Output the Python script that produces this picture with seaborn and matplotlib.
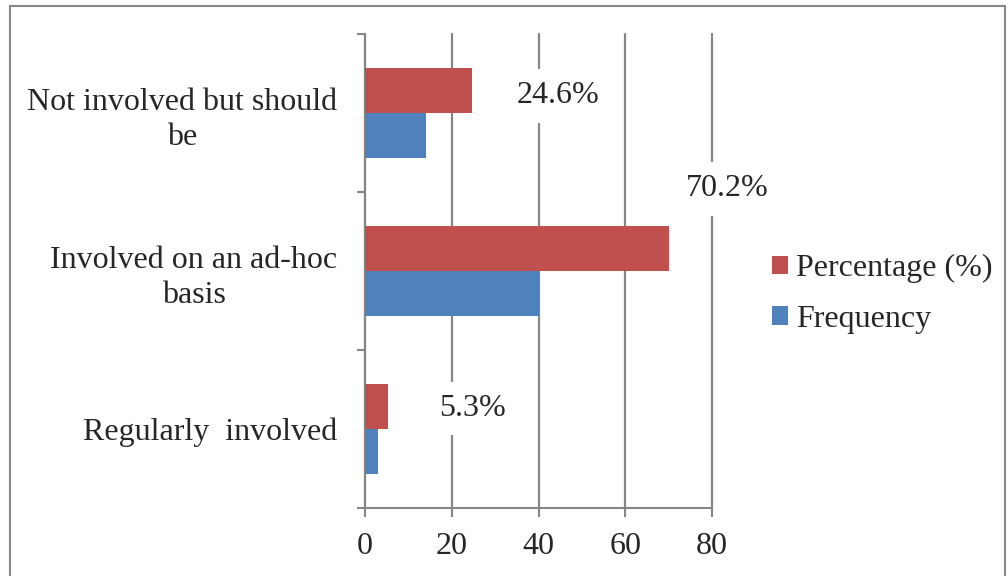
import matplotlib
matplotlib.use("Agg")
import matplotlib.pyplot as plt
import seaborn as sns
import pandas as pd
from matplotlib.patches import Rectangle, Patch

categories = ["Not involved but should\nbe", "Involved on an ad-hoc\nbasis", "Regularly  involved"]
percentage = [24.6, 70.2, 5.3]
frequency = [14, 40, 3]
series = ["Percentage (%)", "Frequency"]
xticks = [0, 20, 40, 60, 80]

colors = {"Percentage (%)": "#C0504D", "Frequency": "#4F81BD"}
# label anchor positions (layout only): (x in data units, y offset from category)
label_pos = [(44.5, -0.11), (83.5, -0.52), (24.7, -0.13)]

FS = 23

sns.set_style("white")
plt.rcParams["font.family"] = ["Liberation Serif", "DejaVu Serif"]

df = pd.DataFrame({
    "category": categories * 2,
    "value": percentage + frequency,
    "series": [series[0]] * 3 + [series[1]] * 3,
})

fig = plt.figure(figsize=(10.08, 5.76), dpi=100)
ax = fig.add_axes([365 / 1008, 1 - 508 / 576, 347 / 1008, 474 / 576])

sns.barplot(data=df, y="category", x="value", hue="series", hue_order=series,
            order=categories, palette=colors, orient="h", width=0.57, saturation=1,
            ax=ax, legend=False, zorder=3, edgecolor="none", linewidth=0)

ax.set_xlim(0, 80)
ax.set_ylim(2.5, -0.5)
ax.set_xticks(xticks)
ax.set_xticklabels([str(t) for t in xticks])
ax.set_yticks([-0.5, 0.5, 1.5, 2.5])
ax.set_yticklabels([])
ax.set_yticks([0, 1, 2], minor=True)
ax.set_yticklabels(categories, minor=True, ha="right", multialignment="center",
                   linespacing=1.3)
ax.tick_params(axis="y", which="minor", length=0, pad=20, labelsize=FS)
ax.tick_params(axis="y", which="major", length=6, width=1.5, color="#868686", direction="out", left=True)
ax.tick_params(axis="x", length=6.5, width=1.5, color="#868686", direction="out", pad=11, labelsize=FS, bottom=True)
ax.set_xlabel("")
ax.set_ylabel("")
ax.xaxis.grid(True, color="#868686", linewidth=1.6, zorder=0)
for gl in ax.get_xgridlines():
    gl.set_clip_on(False)
ax.yaxis.grid(False)
ax.set_axisbelow(True)
for s in ["top", "right"]:
    ax.spines[s].set_visible(False)
for s in ["left", "bottom"]:
    ax.spines[s].set_color("#868686")
    ax.spines[s].set_linewidth(1.5)

for i, (p, (lx, dy)) in enumerate(zip(percentage, label_pos)):
    ax.text(lx, i + dy, f"{p}%", ha="center", va="center", fontsize=FS, zorder=4,
            clip_on=False, bbox=dict(facecolor="white", edgecolor="none", pad=9))

handles = [Patch(facecolor=colors[s], edgecolor="none") for s in series]
fig.legend(handles, series, loc="center left", bbox_to_anchor=(750 / 1008, 1 - 294 / 576),
           frameon=False, fontsize=FS, handlelength=0.5, handleheight=0.5,
           handletextpad=0.25, labelspacing=0.68, borderpad=0.2)

fig.patches.append(Rectangle((10 / 1008, -0.1), (1005 - 10) / 1008, 1.1 - 5.5 / 576,
                             transform=fig.transFigure, fill=False,
                             edgecolor="#868686", linewidth=1.5))

fig.savefig("out.png", dpi=100)
